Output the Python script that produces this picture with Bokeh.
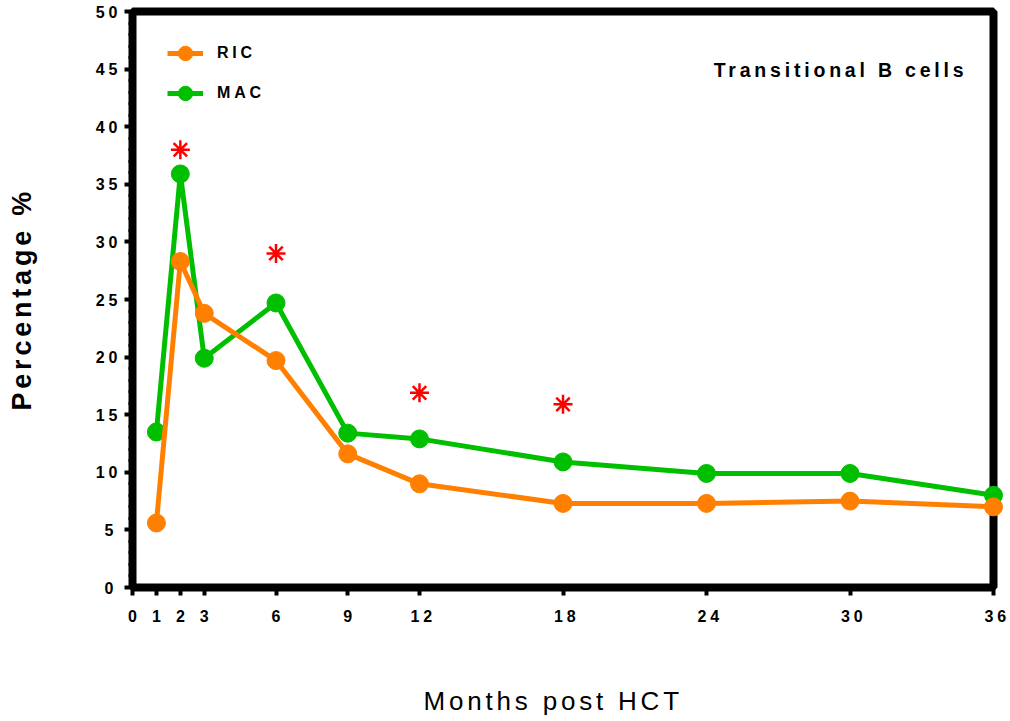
import math

from bokeh.plotting import figure
from bokeh.core.properties import value
from bokeh.models import FixedTicker, Legend, LegendItem, Label, Range1d
from bokeh.embed import file_html
from bokeh.resources import INLINE

# Transitional B cell percentages after HCT, by conditioning regimen
months = [1, 2, 3, 6, 9, 12, 18, 24, 30, 36]
ric = [5.6, 28.3, 23.8, 19.7, 11.6, 9.0, 7.3, 7.3, 7.5, 7.0]
mac = [13.5, 35.9, 19.9, 24.7, 13.4, 12.9, 10.9, 9.9, 9.9, 8.0]

# significance markers
sig_months = [2, 6, 12, 18]
sig_level = [38.0, 29.0, 16.9, 15.9]

x_ticks = [0, 1, 2, 3, 6, 9, 12, 18, 24, 30, 36]
y_ticks = list(range(0, 51, 5))
y_minor = list(range(0, 51))

ORANGE = "#FF8000"
GREEN = "#00BF00"
FONT = "Liberation Sans"

p = figure(width=1010, height=721, output_backend="svg", toolbar_location=None,
           x_range=Range1d(0, 36), y_range=Range1d(0, 50),
           min_border_left=132, min_border_right=17,
           min_border_top=11, min_border_bottom=134)

p.xgrid.visible = False
p.ygrid.visible = False
# heavy box around the data area (only its inner half shows)
p.outline_line_color = "black"
p.outline_line_width = 8
p.outline_line_alpha = 1.0

p.xaxis.ticker = FixedTicker(ticks=x_ticks, minor_ticks=[])
p.yaxis.ticker = FixedTicker(ticks=y_ticks, minor_ticks=y_minor)

for ax in (p.xaxis[0], p.yaxis[0]):
    ax.axis_line_color = "black"
    ax.axis_line_width = 2
    ax.major_tick_line_color = "black"
    ax.major_tick_line_width = 4
    ax.major_tick_in = 0
    ax.major_tick_out = 8
    ax.minor_tick_line_color = "black"
    ax.minor_tick_line_width = 3
    ax.minor_tick_in = 0
    ax.minor_tick_out = 4
    ax.major_label_text_font = FONT
    ax.major_label_text_font_style = "bold"
    ax.major_label_text_font_size = "16px"
    ax.major_label_text_color = "black"

p.xaxis.major_label_standoff = 14
p.yaxis.major_label_standoff = 11

# series (drawn above the frame edges so end markers are not clipped)
m_line = p.line(months, mac, line_color=GREEN, line_width=5, level="overlay")
m_pts = p.scatter(months, mac, size=18, fill_color=GREEN, line_color=GREEN, level="overlay")
r_line = p.line(months, ric, line_color=ORANGE, line_width=5, level="overlay")
r_pts = p.scatter(months, ric, size=18, fill_color=ORANGE, line_color=ORANGE, level="overlay")

p.scatter(sig_months, sig_level, marker="asterisk", size=19,
          line_color="#FF0000", line_width=2.5, level="overlay")

legend = Legend(items=[LegendItem(label="RIC", renderers=[r_line, r_pts]),
                       LegendItem(label="MAC", renderers=[m_line, m_pts])],
                location=(35, 474), glyph_width=36, glyph_height=40,
                spacing=0, padding=10, label_standoff=14,
                border_line_color=None, background_fill_alpha=0,
                label_text_font=FONT, label_text_font_style="bold",
                label_text_font_size="16px", label_text_color="black")
p.add_layout(legend)

p.add_layout(Label(x=24.3, y=44.9, text="Transitional B cells",
                   text_align="left", text_baseline="middle",
                   text_font=FONT, text_font_style="bold",
                   text_font_size="19.5px", text_color="black"))

# axis titles, drawn as unclipped text outside the data area
p.text(x=[12.17], y=[-9.81], text=["Months post HCT"], level="overlay",
       text_align="left", text_baseline="middle",
       text_font=value(FONT), text_font_style="normal",
       text_font_size=value("26px"), text_color="black")
p.text(x=[-4.6], y=[15.36], text=["Percentage %"], angle=math.pi / 2, level="overlay",
       text_align="left", text_baseline="middle",
       text_font=value(FONT), text_font_style="bold",
       text_font_size=value("27px"), text_color="black")

html = file_html(p, INLINE)
# wide character spacing for every text on the page
html = html.replace("</head>", "<style>html, body { letter-spacing: 3.8px; }</style>\n</head>", 1)
open("out.html", "w").write(html)
